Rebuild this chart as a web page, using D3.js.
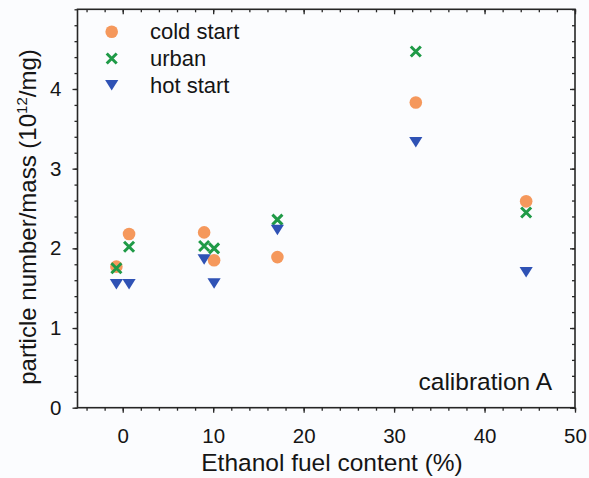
<!DOCTYPE html>
<html>
<head>
<meta charset="utf-8">
<script src="https://cdn.jsdelivr.net/npm/d3@7"></script>
<style>
  html, body { margin: 0; padding: 0; background: #fbfcfe; }
  svg { display: block; font-family: "Liberation Sans", Arial, Helvetica, sans-serif; }
</style>
</head>
<body>
<svg id="chart" width="589" height="478"></svg>
<script>
// Ethanol content (%) of each fuel, slightly offset so overlapping points stay visible
const ethanol = [-0.7, 0.7, 9.0, 10.1, 17.1, 32.4, 44.6];

// Particle number per mass, in 10^12 / mg
const coldStart = [1.77, 2.18, 2.20, 1.85, 1.89, 3.83, 2.59];
const urban     = [1.75, 2.02, 2.03, 2.00, 2.36, 4.47, 2.45];
const hotStart  = [1.55, 1.55, 1.86, 1.56, 2.23, 3.33, 1.70];

const seriesNames = ["cold start", "urban", "hot start"];
const xTicks = [0, 10, 20, 30, 40, 50];
const yTicks = [0, 1, 2, 3, 4];

const colors = { "cold start": "#f5985c", "urban": "#1f9a47", "hot start": "#2f52b5" };

const svg = d3.select("#chart");
const plotL = 77.5, plotR = 575, plotT = 9.3, plotB = 407.7;

const x = d3.scaleLinear().domain([-5, 50]).range([plotL, plotR]);
const y = d3.scaleLinear().domain([0, 5]).range([plotB, plotT]);

const axisColor = "#262626";
const textColor = "#151515";
const minorX = d3.range(-4, 50.01, 2);
const minorY = d3.range(0, 5.01, 0.2).map(v => +v.toFixed(1));

// Bottom axis: outward ticks with labels
const gx = svg.append("g").attr("transform", `translate(0,${plotB})`)
  .call(d3.axisBottom(x).tickValues(minorX).tickSize(3).tickFormat(""));
gx.append("g").call(d3.axisBottom(x).tickValues(xTicks).tickSize(5).tickPadding(16).tickFormat(d3.format("d")));
// Left axis
const gy = svg.append("g").attr("transform", `translate(${plotL},0)`)
  .call(d3.axisLeft(y).tickValues(minorY).tickSize(3).tickFormat(""));
gy.append("g").call(d3.axisLeft(y).tickValues(yTicks).tickSize(5).tickPadding(11).tickFormat(d3.format("d")));
// Mirrored top axis (ticks point into the plot)
const gt = svg.append("g").attr("transform", `translate(0,${plotT})`)
  .call(d3.axisBottom(x).tickValues(minorX).tickSize(3).tickFormat(""));
gt.append("g").call(d3.axisBottom(x).tickValues(xTicks).tickSize(5).tickFormat(""));
// Mirrored right axis (ticks point into the plot)
const gr = svg.append("g").attr("transform", `translate(${plotR},0)`)
  .call(d3.axisLeft(y).tickValues(minorY).tickSize(3).tickFormat(""));
gr.append("g").call(d3.axisLeft(y).tickValues(yTicks).tickSize(5).tickFormat(""));

svg.selectAll(".domain").remove();
svg.selectAll(".tick line").attr("stroke", axisColor).attr("stroke-width", 1.3);
svg.selectAll(".tick text").attr("fill", textColor).attr("font-size", 20.5)
  .attr("font-family", "'Liberation Sans', Arial, sans-serif");

// Plot frame
svg.append("rect")
  .attr("x", plotL).attr("y", plotT)
  .attr("width", plotR - plotL).attr("height", plotB - plotT)
  .attr("fill", "none").attr("stroke", axisColor).attr("stroke-width", 1.6);

// Axis titles
svg.append("text")
  .attr("x", 332).attr("y", 471)
  .attr("text-anchor", "middle").attr("font-size", 24.5).attr("fill", textColor)
  .text("Ethanol fuel content (%)");

const yt = svg.append("text")
  .attr("transform", `translate(36,${217}) rotate(-90)`)
  .attr("text-anchor", "middle").attr("font-size", 24).attr("fill", textColor);
yt.append("tspan").text("particle number/mass (10");
yt.append("tspan").attr("font-size", 15).attr("dy", -9).text("12");
yt.append("tspan").attr("dy", 9).text("/mg)");

// Marker drawers
function drawCircle(g, cx, cy, c) {
  g.append("circle").attr("cx", cx).attr("cy", cy).attr("r", 6.3).attr("fill", c);
}
function drawCross(g, cx, cy, c) {
  const s = 5;
  g.append("path")
    .attr("d", `M${cx - s},${cy - s}L${cx + s},${cy + s}M${cx - s},${cy + s}L${cx + s},${cy - s}`)
    .attr("stroke", c).attr("stroke-width", 3).attr("fill", "none");
}
function drawTriangle(g, cx, cy, c) {
  const w = 6.6, h = 10.5;
  g.append("path")
    .attr("d", `M${cx - w},${cy - h / 2}L${cx + w},${cy - h / 2}L${cx},${cy + h / 2}Z`)
    .attr("fill", c);
}
const drawers = { "cold start": drawCircle, "urban": drawCross, "hot start": drawTriangle };
const values = { "cold start": coldStart, "urban": urban, "hot start": hotStart };

const marks = svg.append("g");
seriesNames.forEach(name => {
  const g = marks.append("g").attr("class", "series");
  ethanol.forEach((e, i) => drawers[name](g, x(e), y(values[name][i]), colors[name]));
});

// Legend
const legend = svg.append("g");
seriesNames.forEach((name, i) => {
  const ly = 31.7 + i * 26.8;
  drawers[name](legend, 111.7, ly, colors[name]);
  legend.append("text").attr("x", 150).attr("y", ly + 7.5)
    .attr("font-size", 22).attr("fill", textColor).text(name);
});

// Panel label
svg.append("text")
  .attr("x", 552).attr("y", 390)
  .attr("text-anchor", "end").attr("font-size", 24.5).attr("fill", textColor)
  .text("calibration A");
</script>
</body>
</html>
